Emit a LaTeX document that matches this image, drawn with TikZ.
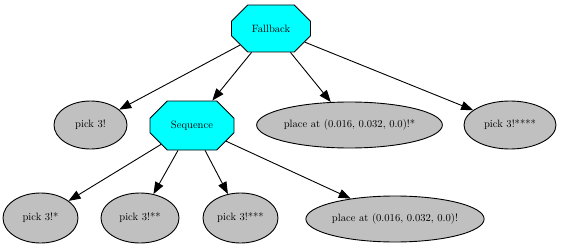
\documentclass[tikz,border=0pt]{standalone}
\usetikzlibrary{shapes.misc,shapes.geometric,arrows.meta}
\definecolor{ctrlfill}{RGB}{0,255,255}
\definecolor{leaffill}{RGB}{192,192,192}
\begin{document}
\begin{tikzpicture}[x=1pt,y=-1pt,
  every node/.style={font=\rmfamily\fontsize{10.6}{12}\selectfont, inner sep=0pt, line width=0.9pt, draw=black},
  ctrl/.style={chamfered rectangle, chamfered rectangle xsep=22.5pt, chamfered rectangle ysep=12.5pt, fill=ctrlfill},
  leaf/.style={ellipse, fill=leaffill},
  edge/.style={line width=0.9pt, -{Triangle[length=12pt,width=9pt]}}]
\useasboundingbox (0,0) rectangle (561,251);
% control nodes
\node[ctrl, minimum width=79pt, minimum height=47pt] (fb) at (271,28.5) {Fallback};
\node[ctrl, minimum width=84pt, minimum height=49pt] (seq) at (192,125.5) {Sequence};
% first-level leaves
\node[leaf, minimum width=73pt, minimum height=48pt] (p1) at (90.5,125) {pick 3!};
\node[leaf, minimum width=185pt, minimum height=46pt] (pl1) at (349.5,125) {place at (0.016, 0.032, 0.0)!*};
\node[leaf, minimum width=92pt, minimum height=48pt] (p5) at (510,125) {pick 3!****};
% second-level leaves
\node[leaf, minimum width=75pt, minimum height=50pt] (p2) at (40.5,218) {pick 3!*};
\node[leaf, minimum width=78pt, minimum height=50pt] (p3) at (140,218) {pick 3!**};
\node[leaf, minimum width=75pt, minimum height=50pt] (p4) at (240.5,218) {pick 3!***};
\node[leaf, minimum width=168pt, minimum height=46pt] (pl2) at (395,219) {place at (0.016, 0.032, 0.0)!};
% edges
\draw[edge] (fb) -- (p1);
\draw[edge] (fb) -- (seq);
\draw[edge] (fb) -- (pl1);
\draw[edge] (fb) -- (p5);
\draw[edge] (seq) -- (p2);
\draw[edge] (seq) -- (p3);
\draw[edge] (seq) -- (p4);
\draw[edge] (seq) -- (pl2);
\end{tikzpicture}
\end{document}
